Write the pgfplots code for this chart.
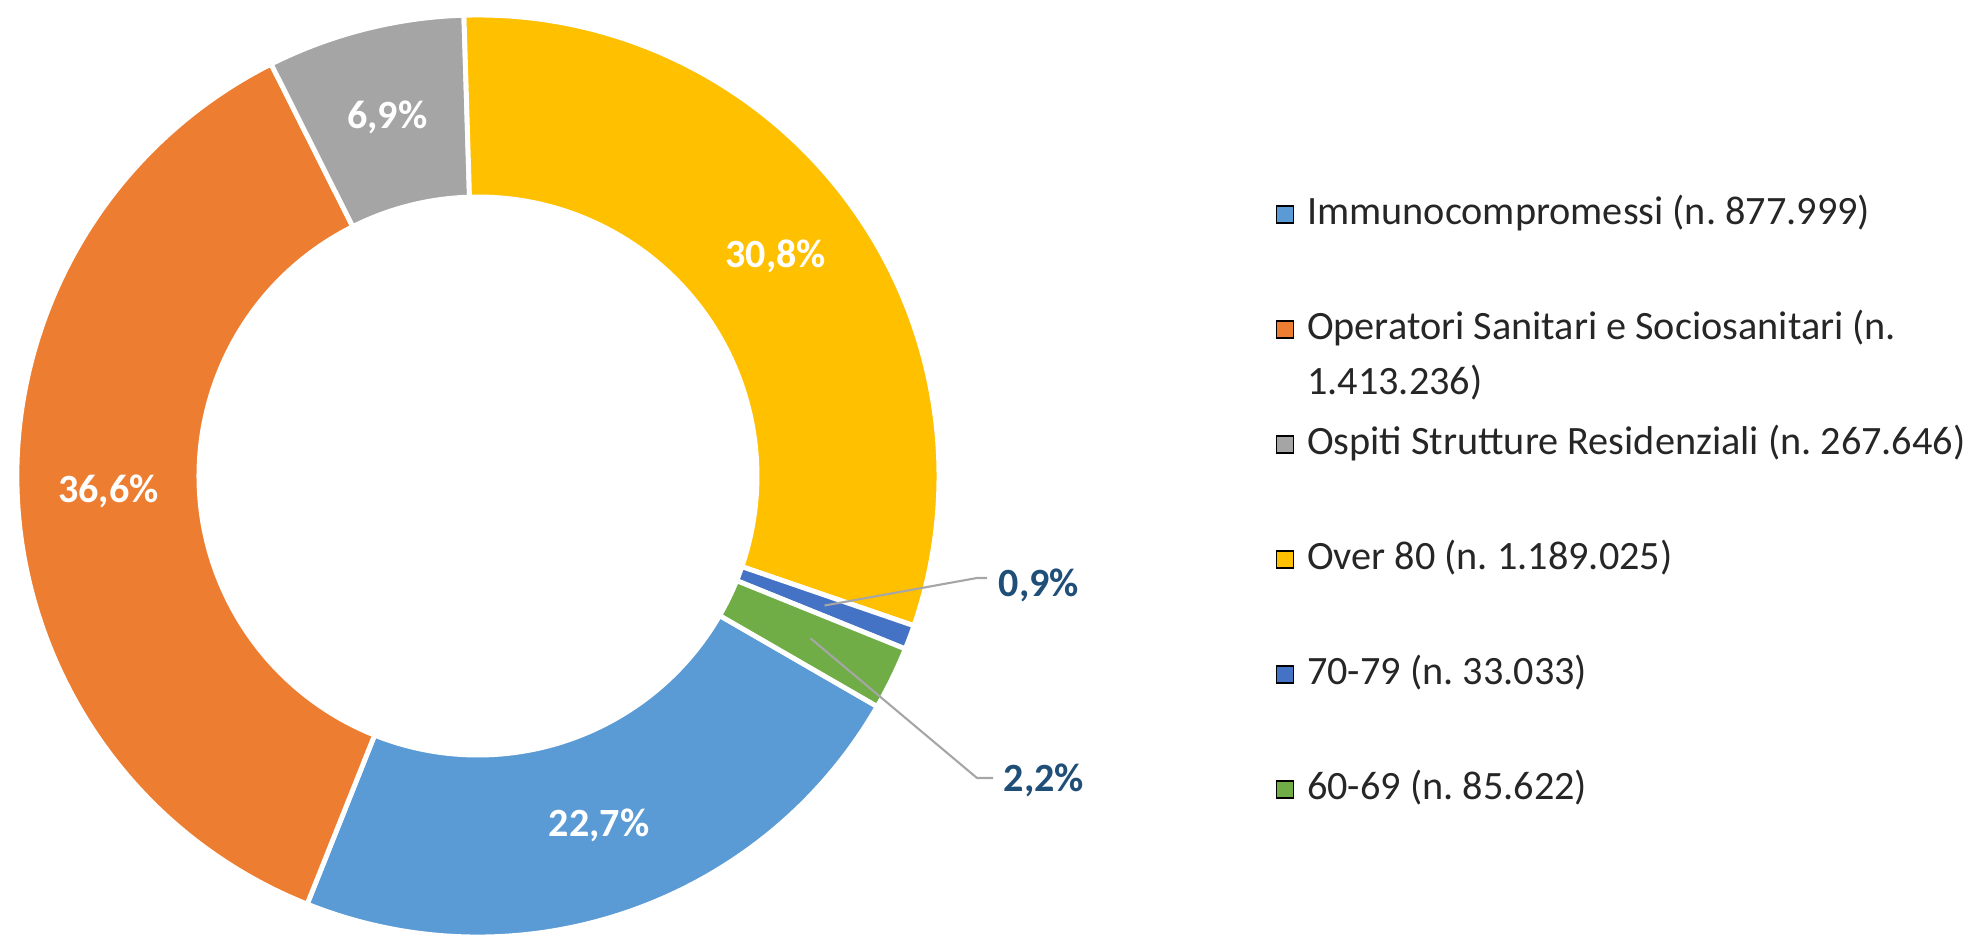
\documentclass[border=0pt]{standalone}
\usepackage{pgfplots}
\pgfplotsset{compat=1.18}
\usepackage{pgfplotstable}
\usepackage{fontspec}
\setmainfont{Carlito}

\definecolor{cImm}{HTML}{5B9BD5}
\definecolor{cOpe}{HTML}{ED7D31}
\definecolor{cOsp}{HTML}{A5A5A5}
\definecolor{cOve}{HTML}{FFC000}
\definecolor{cSet}{HTML}{4472C4}
\definecolor{cSes}{HTML}{70AD47}
\definecolor{labblue}{HTML}{1F4E79}
\definecolor{leader}{HTML}{A6A6A6}

% doses in thousands, percentage shown on the ring, slice colour
\pgfplotstableread{
n        pct   col
877.999  22.7  cImm
1413.236 36.6  cOpe
267.646  6.9   cOsp
1189.025 30.8  cOve
33.033   0.9   cSet
85.622   2.2   cSes
}\doses

\newcommand\lblfont{\fontsize{11.4}{13}\selectfont\bfseries}
\newcommand\legfont{\fontsize{11.45}{13}\selectfont}
\newcommand\pctlabel[1]{\pgfmathprintnumber[assume math mode=true,fixed,fixed zerofill,precision=1,use comma]{#1}\%}

% ring geometry (cm) and Excel-like "angle of first slice"
\def\cx{4.78}
\def\cy{4.62}
\def\Rout{4.61}
\def\Rin{2.79}
\def\firstangle{120}

\gdef\total{0}
\foreach \i in {0,...,5}{%
  \pgfplotstablegetelem{\i}{n}\of\doses
  \pgfmathsetmacro\tmp{\total+\pgfplotsretval}%
  \xdef\total{\tmp}%
}
\pgfmathsetmacro\tmp{90-\firstangle}
\xdef\cur{\tmp}
\foreach \i in {0,...,5}{%
  \pgfplotstablegetelem{\i}{n}\of\doses
  \pgfmathsetmacro\b{\cur-360*(\pgfplotsretval/\total)}%
  \pgfmathsetmacro\m{(\cur+\b)/2}%
  \pgfmathsetmacro\xo{\cx+\Rout*cos(\cur)}%
  \pgfmathsetmacro\yo{\cy+\Rout*sin(\cur)}%
  \pgfmathsetmacro\xn{\cx+\Rin*cos(\b)}%
  \pgfmathsetmacro\yn{\cy+\Rin*sin(\b)}%
  \pgfmathsetmacro\xl{\cx+0.5*(\Rin+\Rout)*cos(\m)}%
  \pgfmathsetmacro\yl{\cy+0.5*(\Rin+\Rout)*sin(\m)}%
  \expandafter\xdef\csname sa\i\endcsname{\cur}%
  \expandafter\xdef\csname sb\i\endcsname{\b}%
  \expandafter\xdef\csname xo\i\endcsname{\xo}%
  \expandafter\xdef\csname yo\i\endcsname{\yo}%
  \expandafter\xdef\csname xn\i\endcsname{\xn}%
  \expandafter\xdef\csname yn\i\endcsname{\yn}%
  \expandafter\xdef\csname xl\i\endcsname{\xl}%
  \expandafter\xdef\csname yl\i\endcsname{\yl}%
  \pgfplotstablegetelem{\i}{pct}\of\doses
  \expandafter\xdef\csname pc\i\endcsname{\pgfplotsretval}%
  \pgfplotstablegetelem{\i}{col}\of\doses
  \expandafter\xdef\csname sc\i\endcsname{\pgfplotsretval}%
  \xdef\cur{\b}%
}

\begin{document}
\frenchspacing
\begin{tikzpicture}
\useasboundingbox (0,0) rectangle (19.73,9.38);
\begin{axis}[
    at={(0,0)}, anchor=south west,
    x=1cm, y=1cm,
    xmin=0, xmax=19.73, ymin=0, ymax=9.38,
    hide axis, clip=false,
    legend image code/.code={\fill[#1] (0cm,-0.085cm) rectangle (0.17cm,0.085cm);},
    legend cell align=left,
    legend style={
        at={(axis cs:12.75,7.42)}, anchor=north west,
        draw=none, fill=none, inner sep=0pt,
        row sep=0.79cm, column sep=0.13cm,
        font=\legfont,
        nodes={inner sep=0pt, text height=0.28cm, text depth=0.08cm, text=black!85},
    },
]
\pgfplotsinvokeforeach{0,...,5}{
  \fill[fill=\csname sc#1\endcsname, draw=white, line width=1.4pt, line join=round]
    (axis cs:\csname xo#1\endcsname,\csname yo#1\endcsname)
    arc[start angle=\csname sa#1\endcsname, end angle=\csname sb#1\endcsname, radius=\Rout cm]
    -- (axis cs:\csname xn#1\endcsname,\csname yn#1\endcsname)
    arc[start angle=\csname sb#1\endcsname, end angle=\csname sa#1\endcsname, radius=\Rin cm]
    -- cycle;
}
\pgfplotsinvokeforeach{0,...,3}{
  \node[text=white, font=\lblfont, inner sep=0pt]
    at (axis cs:\csname xl#1\endcsname,\csname yl#1\endcsname)
    {\pctlabel{\csname pc#1\endcsname}};
}
% small slices: labels outside with leader lines
\draw[leader, line width=0.6pt] (axis cs:9.87,3.60) -- (axis cs:9.77,3.60)
    -- (axis cs:\csname xl4\endcsname,\csname yl4\endcsname);
\node[text=labblue, font=\lblfont, inner sep=0pt, anchor=west] at (axis cs:9.98,3.53)
    {\pctlabel{\csname pc4\endcsname}};
\draw[leader, line width=0.6pt] (axis cs:9.93,1.60) -- (axis cs:9.77,1.60)
    -- (axis cs:\csname xl5\endcsname,\csname yl5\endcsname);
\node[text=labblue, font=\lblfont, inner sep=0pt, anchor=west] at (axis cs:10.03,1.58)
    {\pctlabel{\csname pc5\endcsname}};

\addlegendimage{fill=cImm}
\addlegendimage{fill=cOpe}
\addlegendimage{fill=cOsp}
\addlegendimage{fill=cOve}
\addlegendimage{fill=cSet}
\addlegendimage{fill=cSes}
\legend{
    Immunocompromessi (n. 877.999),
    {\makebox[0pt][l]{\raisebox{-0.55cm}[0pt][0pt]{1.413.236)}}Operatori Sanitari e Sociosanitari (n.},
    Ospiti Strutture Residenziali (n. 267.646),
    Over 80 (n. 1.189.025),
    70-79 (n. 33.033),
    60-69 (n. 85.622)
}
\end{axis}
\end{tikzpicture}
\end{document}
